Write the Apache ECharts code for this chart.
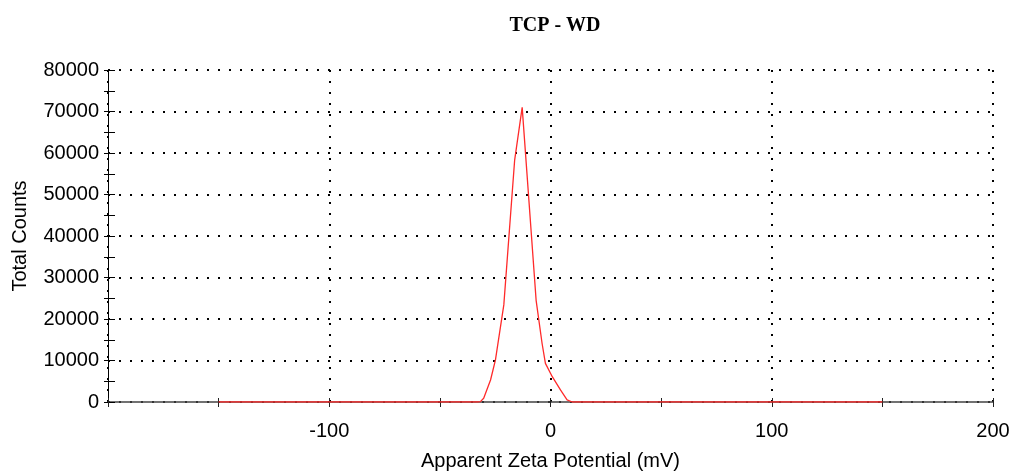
<!DOCTYPE html>
<html>
<head>
<meta charset="utf-8">
<script src="https://cdn.jsdelivr.net/npm/echarts@6/dist/echarts.min.js"></script>
<style>
html,body{margin:0;padding:0;background:#fff;}
#chart{width:1014px;height:472px;}
</style>
</head>
<body>
<div id="chart"></div>
<script>
const titleText = 'TCP - WD';
const xName = 'Apparent Zeta Potential (mV)';
const yName = 'Total Counts';
const zeta =   [-150, -33, -31.7, -30.2, -27.1, -24.9, -21.1, -16.2, -12.8, -6.5, -3.8, -2.3, 0.8, 4.5, 7.5, 9.8, 150];
const counts = [0,     0,   100,   900,  5300, 10100, 23400, 58300, 71000, 24500, 14100, 9300, 6100, 2900, 500, 0, 0];
const xTickLabels = [-100, 0, 100, 200];
const yTickLabels = [0, 10000, 20000, 30000, 40000, 50000, 60000, 70000, 80000];

const font = 'Liberation Sans, Arial, sans-serif';
const dotted = {color: '#000', width: 2, type: [2, 9]};
const X_MIN = -200, X_MAX = 200, Y_MIN = 0, Y_MAX = 80000;

const chart = echarts.init(document.getElementById('chart'));
chart.setOption({
  animation: false,
  backgroundColor: '#fff',
  title: {
    text: titleText, left: 550, top: 11, textAlign: 'center',
    textStyle: {fontFamily: 'Liberation Serif, Times New Roman, serif', fontWeight: 'bold', fontSize: 20, color: '#000'}
  },
  grid: {left: 108, right: 21, top: 70, bottom: 70, containLabel: false, outerBoundsMode: 'none'},
  xAxis: [
    {
      type: 'value', min: X_MIN, max: X_MAX, interval: 50, position: 'bottom',
      axisLine: {show: true, onZero: false, lineStyle: {color: '#444', width: 1.5}},
      axisTick: {show: true, inside: false, length: 5, lineStyle: {color: '#222', width: 1}},
      axisLabel: {
        show: true, margin: 19, fontFamily: font, fontSize: 20, color: '#000',
        formatter: v => xTickLabels.indexOf(v) >= 0 ? String(v) : ''
      },
      splitLine: {show: false},
      name: xName, nameLocation: 'middle', nameGap: 49,
      nameTextStyle: {fontFamily: font, fontSize: 20, color: '#000'}
    },
    {
      type: 'value', min: X_MIN, max: X_MAX, interval: 50, position: 'bottom', offset: 0,
      axisLine: {show: false, onZero: false}, axisTick: {show: true, inside: true, length: 4, lineStyle: {color: '#222', width: 1}},
      axisLabel: {show: false}, splitLine: {show: false}
    },
    {
      type: 'value', min: X_MIN, max: X_MAX, interval: 100, position: 'bottom', offset: 0,
      axisLine: {show: false, onZero: false}, axisTick: {show: false}, axisLabel: {show: false},
      splitLine: {show: true, lineStyle: dotted}
    }
  ],
  yAxis: [
    {
      type: 'value', min: Y_MIN, max: Y_MAX, interval: 10000, position: 'left',
      axisLine: {show: true, onZero: false, lineStyle: {color: '#000', width: 1}},
      axisTick: {show: true, inside: false, length: 4, lineStyle: {color: '#000'}},
      minorTick: {show: true, splitNumber: 2, length: 4, lineStyle: {color: '#000'}},
      axisLabel: {show: true, margin: 9, fontFamily: font, fontSize: 20, color: '#000',
        formatter: v => yTickLabels.indexOf(v) >= 0 ? String(v) : ''},
      splitLine: {show: true, lineStyle: dotted},
      name: yName, nameLocation: 'middle', nameGap: 78,
      nameTextStyle: {fontFamily: font, fontSize: 20, color: '#000'}
    },
    {
      type: 'value', min: Y_MIN, max: Y_MAX, interval: 10000, position: 'left', offset: 0,
      axisLine: {show: false, onZero: false},
      axisTick: {show: true, inside: true, length: 7, lineStyle: {color: '#000'}},
      minorTick: {show: true, splitNumber: 2, length: 7, lineStyle: {color: '#000'}},
      axisLabel: {show: false}, splitLine: {show: false}
    }
  ],
  series: [{
    type: 'line', xAxisIndex: 0, yAxisIndex: 0,
    data: zeta.map((z, i) => [z, counts[i]]),
    showSymbol: false, symbol: 'none', smooth: false,
    lineStyle: {color: '#ff2a2a', width: 1.3},
    z: 5
  }]
});
</script>
</body>
</html>
